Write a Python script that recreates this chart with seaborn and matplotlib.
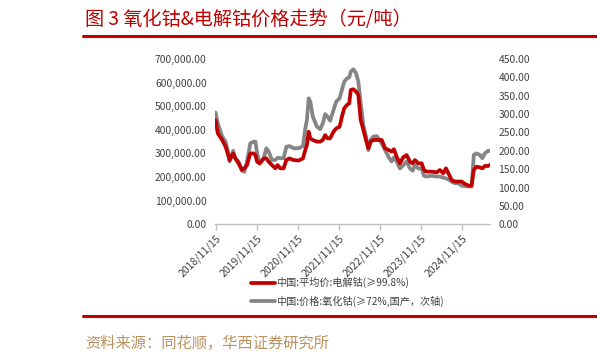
import matplotlib
matplotlib.use("Agg")
import matplotlib.pyplot as plt
from matplotlib.lines import Line2D
import seaborn as sns
import pandas as pd

sns.set_theme(style="white")
plt.rcParams['font.family'] = ['Noto Sans CJK SC', 'DejaVu Sans']
plt.rcParams['axes.unicode_minus'] = False

dates = [
    "2018-11-15", "2018-12-05", "2019-01-13", "2019-02-12", "2019-03-03", "2019-03-20",
    "2019-04-20", "2019-05-10", "2019-06-08", "2019-07-08", "2019-07-29", "2019-08-22",
    "2019-09-20", "2019-10-20", "2019-11-05", "2019-11-20", "2019-12-13", "2020-01-18",
    "2020-02-10", "2020-03-02", "2020-03-31", "2020-04-30", "2020-05-20", "2020-06-14",
    "2020-07-13", "2020-08-06", "2020-09-02", "2020-10-10", "2020-11-24", "2021-01-01",
    "2021-01-22", "2021-02-05", "2021-02-21", "2021-03-07", "2021-03-30", "2021-05-05",
    "2021-06-03", "2021-06-27", "2021-07-17", "2021-08-08", "2021-08-31", "2021-09-30",
    "2021-10-24", "2021-11-23", "2021-12-14", "2022-01-03", "2022-01-27", "2022-02-17",
    "2022-03-03", "2022-03-26", "2022-04-19", "2022-05-09", "2022-05-30", "2022-06-23",
    "2022-07-16", "2022-08-06", "2022-08-27", "2022-09-20", "2022-10-20", "2022-11-13",
    "2022-12-03", "2023-01-02", "2023-02-01", "2023-03-01", "2023-03-22", "2023-04-15",
    "2023-05-14", "2023-06-13", "2023-07-13", "2023-08-12", "2023-09-05", "2023-09-25",
    "2023-10-25", "2023-11-24", "2023-12-14", "2024-01-07", "2024-02-21", "2024-04-05",
    "2024-05-04", "2024-06-03", "2024-06-27", "2024-07-26", "2024-08-16", "2024-09-15",
    "2024-10-14", "2024-11-14", "2024-12-13", "2025-01-12", "2025-02-10", "2025-03-02",
    "2025-03-25", "2025-04-24", "2025-05-17", "2025-06-08", "2025-07-07", "2025-07-22",
]

cobalt_metal = [  # 中国:平均价:电解钴(≥99.8%), 元/吨
    441000, 385000, 357000, 329000, 300000, 272000,
    300000, 279000, 258000, 230000, 237000, 251000,
    300000, 300000, 293000, 265000, 258000, 279000,
    279000, 265000, 251000, 237000, 251000, 237000,
    237000, 272000, 279000, 272000, 270000, 279000,
    315000, 336000, 392000, 364000, 357000, 350000,
    350000, 357000, 378000, 364000, 364000, 392000,
    406000, 413000, 456000, 491000, 505000, 512000,
    569000, 572000, 562000, 548000, 442000, 399000,
    357000, 322000, 350000, 357000, 357000, 357000,
    357000, 322000, 315000, 308000, 318000, 286000,
    258000, 284000, 293000, 265000, 258000, 272000,
    258000, 258000, 230000, 223000, 223000, 220000,
    230000, 216000, 237000, 209000, 188000, 181000,
    181000, 181000, 171000, 164000, 164000, 230000,
    244000, 241000, 237000, 247000, 247000, 251000,
]

cobalt_oxide = [  # 中国:价格:氧化钴(≥72%,国产), 次轴
    304, 275, 239, 225, 202, 171,
    200, 180, 171, 146, 143, 171,
    220, 225, 225, 193, 166, 180,
    207, 198, 175, 175, 181, 180,
    180, 211, 213, 207, 207, 213,
    261, 284, 343, 334, 293, 266,
    259, 275, 300, 293, 282, 311,
    334, 343, 366, 388, 397, 400,
    416, 422, 411, 388, 329, 270,
    239, 202, 230, 239, 240, 230,
    220, 202, 184, 171, 182, 171,
    152, 161, 171, 152, 146, 161,
    152, 152, 132, 130, 132, 130,
    130, 127, 125, 121, 116, 112,
    112, 105, 104, 103, 103, 189,
    193, 189, 180, 193, 200, 200,
]

tick_dates = ["2018-11-15", "2019-11-15", "2020-11-15", "2021-11-15",
              "2022-11-15", "2023-11-15", "2024-11-15"]
tick_labels = ["2018/11/15", "2019/11/15", "2020/11/15", "2021/11/15",
               "2022/11/15", "2023/11/15", "2024/11/15"]

left_ticks = [0, 100000, 200000, 300000, 400000, 500000, 600000, 700000]
right_ticks = [0, 50, 100, 150, 200, 250, 300, 350, 400, 450]

name_red = "中国:平均价:电解钴(≥99.8%)"
name_gray = "中国:价格:氧化钴(≥72%,国产，次轴)"

df = pd.DataFrame({"date": pd.to_datetime(dates), "metal": cobalt_metal, "oxide": cobalt_oxide})

RED = "#C00000"
GRAY = "#858585"
TXT = "#404040"

fig = plt.figure(figsize=(5.97, 3.63), dpi=100)
ax = fig.add_axes([215/597, 1 - 224.3/363, (490 - 215)/597, (224.3 - 59)/363])
ax2 = ax.twinx()

sns.lineplot(data=df, x="date", y="oxide", ax=ax2, color=GRAY, linewidth=2.7, zorder=2)
sns.lineplot(data=df, x="date", y="metal", ax=ax, color=RED, linewidth=2.7)
ax.set_zorder(ax2.get_zorder() + 1)
ax.patch.set_visible(False)

ax.set_xlim(pd.Timestamp("2018-11-10"), pd.Timestamp("2025-07-24"))
ax.set_ylim(0, 700000)
ax2.set_ylim(0, 450)

ax.set_yticks(left_ticks)
ax.set_yticklabels([f"{v:,.2f}" for v in left_ticks])
ax2.set_yticks(right_ticks)
ax2.set_yticklabels([f"{v:.2f}" for v in right_ticks])

ax.set_xticks(pd.to_datetime(tick_dates))
ax.set_xticklabels(tick_labels, rotation=45, ha="right", rotation_mode="anchor")

for a in (ax, ax2):
    a.set_xlabel("")
    a.set_ylabel("")
    a.grid(False)
    for s in ("top", "left", "right", "bottom"):
        a.spines[s].set_visible(False)
    a.tick_params(axis="y", length=0, labelsize=7.4, labelcolor=TXT, pad=6)

ax.spines["bottom"].set_visible(True)
ax.spines["bottom"].set_color("#BFBFBF")
ax.spines["bottom"].set_linewidth(1.0)
ax.tick_params(axis="x", length=4, width=1.0, color="#BFBFBF", direction="out",
               labelsize=7.5, labelcolor=TXT, pad=2, bottom=True)
ax2.tick_params(axis="x", bottom=False, labelbottom=False)

handles = [Line2D([0], [0], color=RED, lw=2.7), Line2D([0], [0], color=GRAY, lw=2.7)]
leg = fig.legend(handles, [name_red, name_gray], loc="upper left",
                 bbox_to_anchor=(247/597, 1 - 273/363), frameon=False,
                 fontsize=7.3, handlelength=2.4, handletextpad=0.1,
                 labelspacing=0.75, borderaxespad=0)
for t in leg.get_texts():
    t.set_color(TXT)

# title, rules, source
fig.text(85/597, 1 - 20/363, "图 3 氧化钴&电解钴价格走势（元/吨）", color=RED,
         fontsize=13.8, va="center", ha="left")
fig.add_artist(Line2D([83/597, 1.0], [1 - 35.5/363] * 2, color=RED, lw=2.2))
fig.add_artist(Line2D([83/597, 1.0], [1 - 316/363] * 2, color=RED, lw=2.2))
fig.text(85/597, 1 - 343/363, "资料来源：同花顺，华西证券研究所", color="#B8935F",
         fontsize=11, va="center", ha="left")

fig.savefig("out.png", dpi=100)
